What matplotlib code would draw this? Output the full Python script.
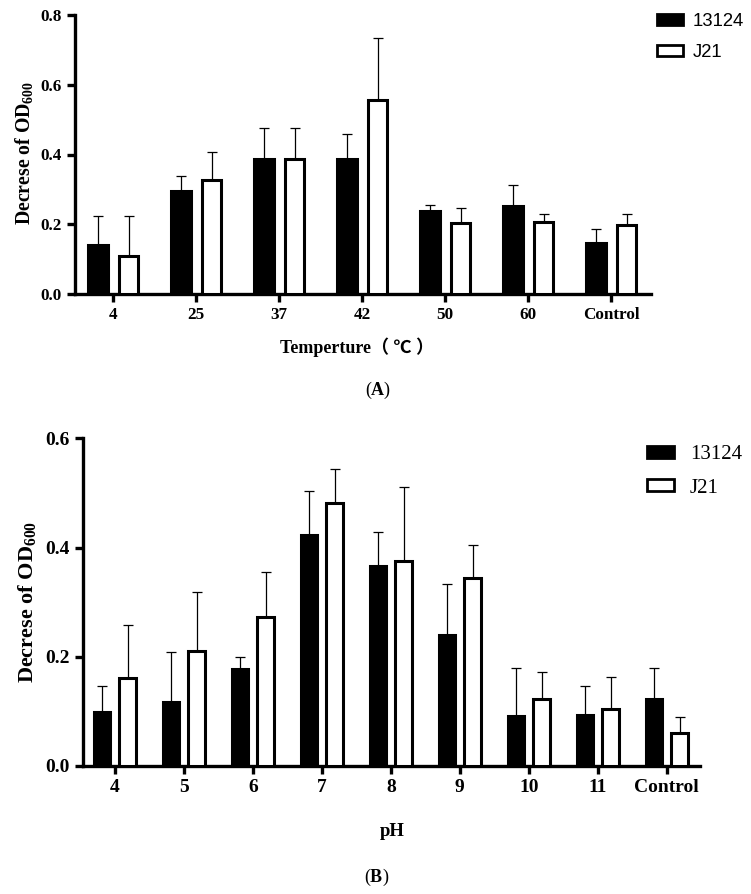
import matplotlib
matplotlib.use('Agg')
import matplotlib.pyplot as plt
import numpy as np
from matplotlib.patches import Patch

plt.rcParams['font.family'] = ['Liberation Serif', 'Noto Sans CJK SC', 'DejaVu Sans']
plt.rcParams['mathtext.default'] = 'regular'
plt.rcParams['mathtext.fontset'] = 'custom'
plt.rcParams['mathtext.rm'] = 'Liberation Serif'
plt.rcParams['mathtext.bf'] = 'Liberation Serif:bold'

# Panel A - temperature
temp_labels = ['4', '25', '37', '42', '50', '60', 'Control']
temp_13124 = [0.140, 0.295, 0.387, 0.387, 0.237, 0.252, 0.145]
temp_13124_sd = [0.084, 0.043, 0.089, 0.071, 0.019, 0.061, 0.040]
temp_J21 = [0.110, 0.327, 0.387, 0.556, 0.204, 0.207, 0.197]
temp_J21_sd = [0.113, 0.081, 0.089, 0.177, 0.042, 0.023, 0.032]

# Panel B - pH
ph_labels = ['4', '5', '6', '7', '8', '9', '10', '11', 'Control']
ph_13124 = [0.098, 0.117, 0.178, 0.423, 0.367, 0.239, 0.092, 0.093, 0.123]
ph_13124_sd = [0.049, 0.092, 0.021, 0.081, 0.061, 0.094, 0.087, 0.054, 0.056]
ph_J21 = [0.161, 0.211, 0.273, 0.481, 0.375, 0.344, 0.123, 0.104, 0.061]
ph_J21_sd = [0.098, 0.108, 0.083, 0.062, 0.135, 0.060, 0.049, 0.059, 0.028]

fig = plt.figure(figsize=(7.51, 8.94), dpi=100)
W, H = 751, 894


def draw_panel(ax, labels, m1, s1, m2, s2, ymax, tick_fs, lw):
    x = np.arange(len(labels))
    off, w = 0.185, 0.24
    ekw = dict(elinewidth=0.9, capsize=3.5, capthick=0.9, ecolor='black')
    ax.bar(x - off, m1, w, color='black', edgecolor='black', linewidth=lw,
           yerr=[np.zeros(len(m1)), s1], error_kw=ekw, zorder=3)
    ax.bar(x + off, m2, w, color='white', edgecolor='black', linewidth=lw,
           yerr=[np.zeros(len(m2)), s2], error_kw=ekw, zorder=3)
    ax.set_xlim(-0.46, len(labels) - 1 + 0.48)
    ax.set_ylim(0, ymax)
    ax.set_yticks(np.arange(0, ymax + 0.001, 0.2))
    ax.set_yticklabels(['%.1f' % v for v in np.arange(0, ymax + 0.001, 0.2)])
    ax.set_xticks(x)
    ax.set_xticklabels(labels)
    for sp in ['top', 'right']:
        ax.spines[sp].set_visible(False)
    for sp in ['left', 'bottom']:
        ax.spines[sp].set_linewidth(2.4)
    ax.tick_params(axis='both', width=2.4, length=6, labelsize=tick_fs)
    for t in ax.get_xticklabels() + ax.get_yticklabels():
        t.set_fontweight('bold')
        t.set_family('Liberation Serif')


# Panel A
axA = fig.add_axes([75 / W, 1 - 294 / H, 576 / W, 279 / H])
draw_panel(axA, temp_labels, temp_13124, temp_13124_sd, temp_J21, temp_J21_sd, 0.8, 12.3, 2.2)
hA = [Patch(facecolor='black', edgecolor='black', linewidth=2),
      Patch(facecolor='white', edgecolor='black', linewidth=2)]
axA.legend(hA, ['13124', 'J21'], loc='upper left', bbox_to_anchor=(657 / W, 1 - 13 / H),
           bbox_transform=fig.transFigure, frameon=False, borderpad=0, borderaxespad=0,
           handlelength=1.4, handleheight=0.55, handletextpad=0.55, labelspacing=0.75,
           prop={'family': 'Liberation Sans', 'size': 13.3})
fig.text(24 / W, 1 - 153 / H, 'Decrese of OD$_{600}$', rotation=90, ha='center', va='center',
         fontsize=14.2, fontweight='bold')
fig.text(357 / W, 1 - 347 / H, 'Temperture（ ℃ ）', ha='center', va='center',
         fontsize=13, fontweight='bold')
fig.text(378 / W, 1 - 390 / H, r'($\mathbf{A}$)', ha='center', va='center', fontsize=13)

# Panel B
axB = fig.add_axes([83 / W, 1 - 766 / H, 617 / W, 327.7 / H])
draw_panel(axB, ph_labels, ph_13124, ph_13124_sd, ph_J21, ph_J21_sd, 0.6, 14, 2.2)
hB = [Patch(facecolor='black', edgecolor='black', linewidth=2),
      Patch(facecolor='white', edgecolor='black', linewidth=2)]
axB.legend(hB, ['13124', 'J21'], loc='upper left', bbox_to_anchor=(647 / W, 1 - 445 / H),
           bbox_transform=fig.transFigure, frameon=False, borderpad=0, borderaxespad=0,
           handlelength=1.3, handleheight=0.5, handletextpad=0.75, labelspacing=0.7,
           prop={'family': 'Liberation Serif', 'size': 15})
fig.text(27 / W, 1 - 602 / H, 'Decrese of OD$_{600}$', rotation=90, ha='center', va='center',
         fontsize=16, fontweight='bold')
fig.text(392 / W, 1 - 832 / H, 'pH', ha='center', va='center', fontsize=13.5, fontweight='bold')
fig.text(377 / W, 1 - 877 / H, r'($\mathbf{B}$)', ha='center', va='center', fontsize=13)

fig.savefig('out.png', dpi=100)
